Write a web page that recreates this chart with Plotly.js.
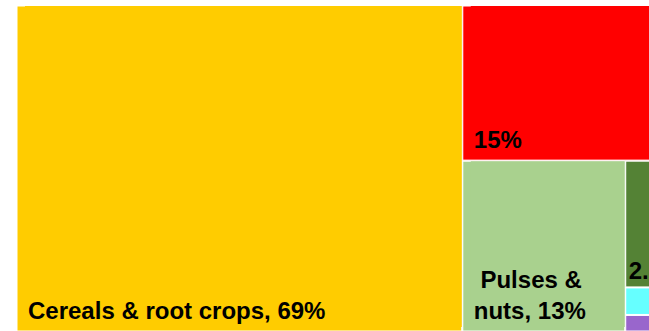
<!DOCTYPE html>
<html>
<head>
<meta charset="utf-8">
<script src="https://cdn.plot.ly/plotly-3.0.1.min.js"></script>
<style>
html,body{margin:0;padding:0;overflow:hidden;background:#fff;}
#chart{width:700px;height:345px;}
</style>
</head>
<body>
<div id="chart"></div>
<script>
// Data (shares in % of total)
const categories = ["Cereals & root crops", "Fruits & vegetables", "Pulses & nuts", "Oils & fats", "Dairy", "Other"];
const shares = [68.9, 14.8, 13.2, 2.3, 0.5, 0.3];
const labelTexts = ["Cereals & root crops, 69%", "15%", "&nbsp;Pulses &<br>nuts, 13%", "2.3%", "", ""];
const colors = ["#FFCC00", "#FF0000", "#A9D18E", "#548235", "#66FFFF", "#9966CC"];
const padded = [true, true, true, false, false, false]; // labels inset from the tile edge

// Build the hierarchy (root -> category -> inner tile used for label inset)
const ids = ["root"], labels = [" "], parents = [""], values = [shares.reduce((a, b) => a + b, 0)];
const texts = [" "], fills = ["#ffffff"], lineW = [0];
categories.forEach((c, i) => {
  ids.push(c); labels.push(padded[i] ? " " : c); parents.push("root"); values.push(shares[i]);
  texts.push(padded[i] ? " " : (labelTexts[i] || " ")); fills.push(colors[i]); lineW.push(1);
  if (padded[i]) {
    ids.push(c + "|in"); labels.push(c); parents.push(c); values.push(shares[i]);
    texts.push(labelTexts[i]); fills.push(colors[i]); lineW.push(0);
  }
});

const trace = {
  type: "treemap",
  ids: ids, labels: labels, parents: parents, values: values,
  branchvalues: "total",
  text: texts,
  textinfo: "text",
  textposition: "bottom left",
  textfont: {family: "Liberation Sans, Arial, sans-serif", size: 24, color: "#000", weight: "bold"},
  marker: {colors: fills, line: {color: "#ffffff", width: lineW}, pad: {t: 0, l: 8, r: 0, b: 4}},
  tiling: {pad: 1},
  pathbar: {visible: false},
  sort: true,
  hoverinfo: "none"
};

Plotly.newPlot("chart", [trace], {
  width: 700, height: 345,
  margin: {l: 9, r: 37, t: 6, b: 10},
  paper_bgcolor: "#ffffff",
  uniformtext: {mode: "show", minsize: 24},
  showlegend: false
}, {displayModeBar: false, staticPlot: true});
</script>
</body>
</html>
